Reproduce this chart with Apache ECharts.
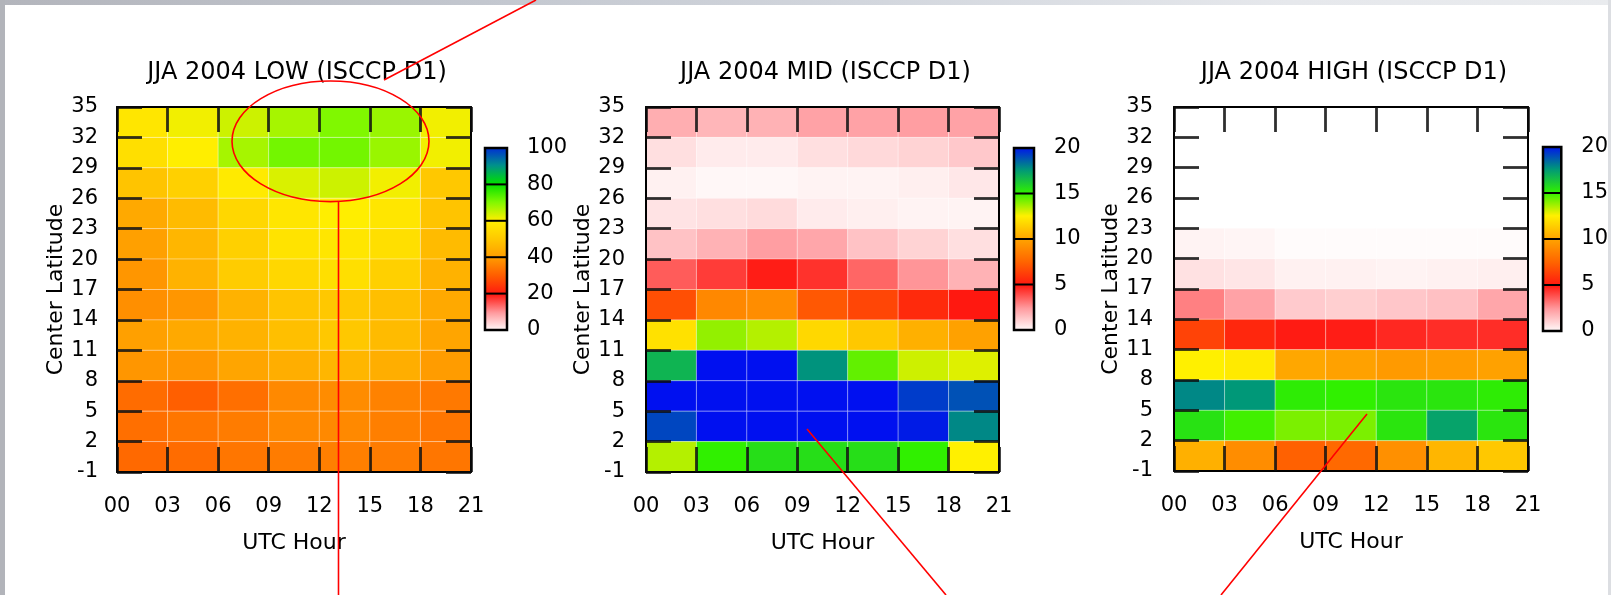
<!DOCTYPE html>
<html>
<head>
<meta charset="utf-8">
<title>JJA 2004 ISCCP D1 cloud amount</title>
<script src="https://cdn.jsdelivr.net/npm/echarts@6/dist/echarts.min.js"></script>
<style>
  html, body { margin: 0; padding: 0; }
  #frame {
    position: relative; width: 1611px; height: 595px; overflow: hidden;
    background: linear-gradient(90deg, #b3b5bc 0%, #c3c7cf 30%, #d3d7de 55%, #e6e8ec 80%, #e9ebee 100%);
  }
  #sheet { position: absolute; left: 5px; top: 5px; width: 1603px; height: 590px; background: #fff; }
  #leftEdge { position: absolute; left: 0; top: 0; width: 5px; height: 595px; background: #b2b4ba; }
  #rightEdge { position: absolute; left: 1608px; top: 0; width: 3px; height: 595px; background: #dcdee2; }
  #chart { position: absolute; left: 0; top: 0; width: 1611px; height: 595px; }
</style>
</head>
<body>
<div id="frame">
  <div id="sheet"></div>
  <div id="leftEdge"></div>
  <div id="rightEdge"></div>
  <div id="chart"></div>
</div>
<script>
// Axis tick labels (cell edges)
const hourLabels = ['00', '03', '06', '09', '12', '15', '18', '21'];
const latLabels = ['-1', '2', '5', '8', '11', '14', '17', '20', '23', '26', '29', '32', '35'];

// Cloud amount per 3-degree latitude band (rows, north 32-35 first) and 3-hour slot (columns 00..18)
const lowCloud = [
  [58, 61, 64, 67, 70, 68, 61],
  [56, 60, 67, 71, 71, 68, 61],
  [49, 52, 59, 63, 64, 61, 50],
  [43, 47, 54, 58, 60, 58, 49],
  [41, 46, 52, 57, 58, 56, 47],
  [39, 45, 51, 54, 56, 52, 45],
  [38, 39, 45, 49, 50, 48, 43],
  [41, 43, 45, 48, 50, 47, 42],
  [39, 39, 42, 44, 46, 44, 40],
  [32.5, 30.5, 33, 37, 37.5, 36, 34.5],
  [33, 34, 35, 37, 37, 35.5, 34],
  [32, 32.5, 34, 35, 35.5, 35, 34]
];
const midCloud = [
  [2.0, 1.8, 1.9, 2.3, 2.3, 2.4, 2.3],
  [0.8, 0.5, 0.5, 0.8, 0.95, 1.1, 1.35],
  [0.35, 0.2, 0.2, 0.3, 0.3, 0.4, 0.6],
  [0.7, 0.8, 0.9, 0.5, 0.4, 0.3, 0.3],
  [1.5, 1.9, 2.4, 2.2, 1.5, 1.1, 0.8],
  [3.7, 4.3, 4.9, 4.5, 3.5, 2.6, 1.9],
  [6.8, 8.9, 9.1, 7.1, 6.5, 5.6, 5.0],
  [12.0, 13.8, 13.4, 11.7, 11.2, 10.4, 9.9],
  [16.7, 21, 21, 17.6, 14.4, 13.1, 12.9],
  [21, 21, 21, 21, 21, 19.2, 18.8],
  [19.0, 21, 21, 21, 21, 19.8, 17.8],
  [13.4, 15.0, 15.5, 15.5, 15.5, 15.0, 12.5]
];
const highCloud = [
  [0, 0, 0, 0, 0, 0, 0],
  [0, 0, 0, 0, 0, 0, 0],
  [0, 0, 0, 0, 0, 0, 0],
  [0, 0, 0, 0, 0, 0, 0],
  [0.3, 0.25, 0.1, 0.1, 0.1, 0.1, 0.1],
  [0.75, 0.65, 0.35, 0.35, 0.3, 0.35, 0.4],
  [3.0, 2.3, 1.3, 1.2, 1.4, 1.55, 2.2],
  [6.4, 5.5, 4.95, 4.9, 4.7, 4.6, 4.6],
  [12.5, 12.3, 10.1, 9.9, 9.6, 9.7, 9.9],
  [17.8, 17.5, 15.1, 15.0, 15.3, 15.3, 15.1],
  [15.4, 14.8, 14.1, 14.1, 15.3, 17.2, 15.3],
  [10.4, 9.1, 7.4, 7.7, 9.2, 10.6, 11.2]
];

// Colour bar ticks
const lowTicks = [0, 20, 40, 60, 80, 100];
const midTicks = [0, 5, 10, 15, 20];
const highTicks = [0, 5, 10, 15, 20];

// Colour scales, evenly spaced from 0 to the bar maximum
const lowColors = ['#ffffff', '#ff9a9e', '#ff1810', '#ff5c00', '#ff9c00', '#ffc800',
                   '#ffee00', '#80f800', '#00e000', '#00908c', '#0028d8'];
const layerColors = ['#ffffff', '#ff9a9e', '#ff1810', '#ff6400', '#ffa400', '#fff000',
                     '#30f000', '#009878', '#0010f0'];

const FONT = 'DejaVu Sans';
const INK = '#000';

const panels = [
  { title: 'JJA 2004 LOW (ISCCP D1)', values: lowCloud, max: 100, ticks: lowTicks, colors: lowColors,
    grid: { left: 117, top: 107, width: 354, height: 365 },
    bar: { left: 485, top: 148, width: 22, height: 182 }, latGap: 40, labelGap: 19 },
  { title: 'JJA 2004 MID (ISCCP D1)', values: midCloud, max: 20, ticks: midTicks, colors: layerColors,
    grid: { left: 646, top: 107, width: 353, height: 365 },
    bar: { left: 1014, top: 148, width: 20, height: 182 }, latGap: 46, labelGap: 21 },
  { title: 'JJA 2004 HIGH (ISCCP D1)', values: highCloud, max: 20, ticks: highTicks, colors: layerColors,
    grid: { left: 1174, top: 107, width: 354, height: 364 },
    bar: { left: 1543, top: 147, width: 21, height: 184 }, latGap: 44, labelGap: 21 }
];

function toCells(rows) {
  const out = [];
  const n = rows.length;
  rows.forEach((row, i) => {
    row.forEach((v, c) => out.push([c, n - 1 - i, v]));
  });
  return out;
}

const tickStyle = { show: true, inside: true, length: 25, lineStyle: { color: 'rgba(10,10,10,0.85)', width: 2.8 } };
const frameLine = { show: true, onZero: false, lineStyle: { color: '#000', width: 2 } };
const labelText = { fontFamily: FONT, fontSize: 21, color: INK };

const grids = [], xAxes = [], yAxes = [], series = [], visualMaps = [], titles = [];

panels.forEach((p, k) => {
  const gHeat = grids.length;
  grids.push(Object.assign({ containLabel: false }, p.grid));
  const gBar = grids.length;
  grids.push(Object.assign({ containLabel: false }, p.bar));

  titles.push({
    text: p.title, left: p.grid.left + p.grid.width / 2 - 2, top: 56, textAlign: 'center',
    textStyle: { fontFamily: FONT, fontSize: 24, fontWeight: 'normal', color: INK }
  });

  const xBottom = xAxes.length;
  xAxes.push({
    gridIndex: gHeat, type: 'value', min: 0, max: 7, interval: 1, position: 'bottom', z: 5,
    axisLine: frameLine, axisTick: tickStyle, splitLine: { show: false },
    axisLabel: Object.assign({ margin: 24, formatter: v => hourLabels[Math.round(v)] }, labelText),
    name: 'UTC Hour', nameLocation: 'middle', nameGap: 60,
    nameTextStyle: { fontFamily: FONT, fontSize: 22, color: INK }
  });
  xAxes.push({
    gridIndex: gHeat, type: 'value', min: 0, max: 7, interval: 1, position: 'top', z: 5,
    axisLine: frameLine, axisTick: tickStyle, splitLine: { show: false }, axisLabel: { show: false }
  });
  const yLeft = yAxes.length;
  yAxes.push({
    gridIndex: gHeat, type: 'value', min: 0, max: 12, interval: 1, position: 'left', z: 5,
    axisLine: frameLine, axisTick: tickStyle, splitLine: { show: false },
    axisLabel: Object.assign({ margin: p.labelGap, formatter: v => latLabels[Math.round(v)] }, labelText),
    name: 'Center Latitude', nameLocation: 'middle', nameGap: p.latGap,
    nameTextStyle: { fontFamily: FONT, fontSize: 22, color: INK }
  });
  yAxes.push({
    gridIndex: gHeat, type: 'value', min: 0, max: 12, interval: 1, position: 'right', z: 5,
    axisLine: frameLine, axisTick: tickStyle, splitLine: { show: false }, axisLabel: { show: false }
  });

  // colour bar axes
  const xBar = xAxes.length;
  xAxes.push({ gridIndex: gBar, type: 'value', min: 0, max: 1, show: false });
  const yBar = yAxes.length;
  const step = p.ticks[1] - p.ticks[0];
  yAxes.push({
    gridIndex: gBar, type: 'value', min: 0, max: p.max, interval: step, position: 'right',
    axisLine: { show: false }, axisTick: { show: false }, splitLine: { show: false },
    axisLabel: Object.assign({ margin: 20 }, labelText)
  });

  const heatIndex = series.length;
  series.push({
    type: 'custom', name: p.title, xAxisIndex: xBottom, yAxisIndex: yLeft,
    data: toCells(p.values), encode: { x: 0, y: 1 }, clip: true, z: 1,
    renderItem: (params, api) => {
      const c = api.value(0), r = api.value(1);
      const a = api.coord([c, r + 1]);
      const b = api.coord([c + 1, r]);
      return {
        type: 'rect',
        shape: { x: a[0], y: a[1], width: b[0] - a[0], height: b[1] - a[1] },
        style: { fill: api.visual('color'), stroke: 'rgba(255,255,255,0.3)', lineWidth: 1 }
      };
    }
  });
  visualMaps.push({
    type: 'continuous', show: false, seriesIndex: heatIndex, dimension: 2,
    min: 0, max: p.max, inRange: { color: p.colors }
  });

  const colors = p.colors, ticks = p.ticks, top = p.max;
  series.push({
    type: 'custom', name: p.title + ' scale', xAxisIndex: xBar, yAxisIndex: yBar,
    data: [[0, 0]], encode: { x: 0, y: 1 }, silent: true, z: 3,
    renderItem: (params, api) => {
      const a = api.coord([0, top]);
      const b = api.coord([1, 0]);
      const stops = colors.map((col, i) => ({ offset: i / (colors.length - 1), color: col }));
      const children = [{
        type: 'rect',
        shape: { x: a[0], y: a[1], width: b[0] - a[0], height: b[1] - a[1] },
        style: { fill: { type: 'linear', x: 0, y: 1, x2: 0, y2: 0, colorStops: stops }, stroke: '#000', lineWidth: 2.5 }
      }];
      ticks.slice(1, -1).forEach(t => {
        const l = api.coord([0, t]), r = api.coord([1, t]);
        children.push({ type: 'line', shape: { x1: l[0], y1: l[1], x2: r[0], y2: r[1] },
                        style: { stroke: '#000', lineWidth: 2 } });
      });
      return { type: 'group', children };
    }
  });
});

// red hand-drawn callouts
const callouts = [
  { type: 'line', shape: { x1: 536, y1: 0, x2: 384, y2: 80 } },
  { type: 'ellipse', shape: { cx: 330.5, cy: 141.3, rx: 98.5, ry: 60.3 } },
  { type: 'line', shape: { x1: 338.5, y1: 201.7, x2: 338.5, y2: 595 } },
  { type: 'line', shape: { x1: 807, y1: 429, x2: 946, y2: 595 } },
  { type: 'line', shape: { x1: 1367, y1: 414, x2: 1221, y2: 595 } }
].map(g => Object.assign(g, { z: 100, silent: true, style: { stroke: '#ff0000', lineWidth: 1.6, fill: null } }));

const chart = echarts.init(document.getElementById('chart'), null, { renderer: 'canvas' });
chart.setOption({
  backgroundColor: 'transparent',
  animation: false,
  title: titles,
  grid: grids,
  xAxis: xAxes,
  yAxis: yAxes,
  visualMap: visualMaps,
  series: series,
  graphic: callouts
});
</script>
</body>
</html>
